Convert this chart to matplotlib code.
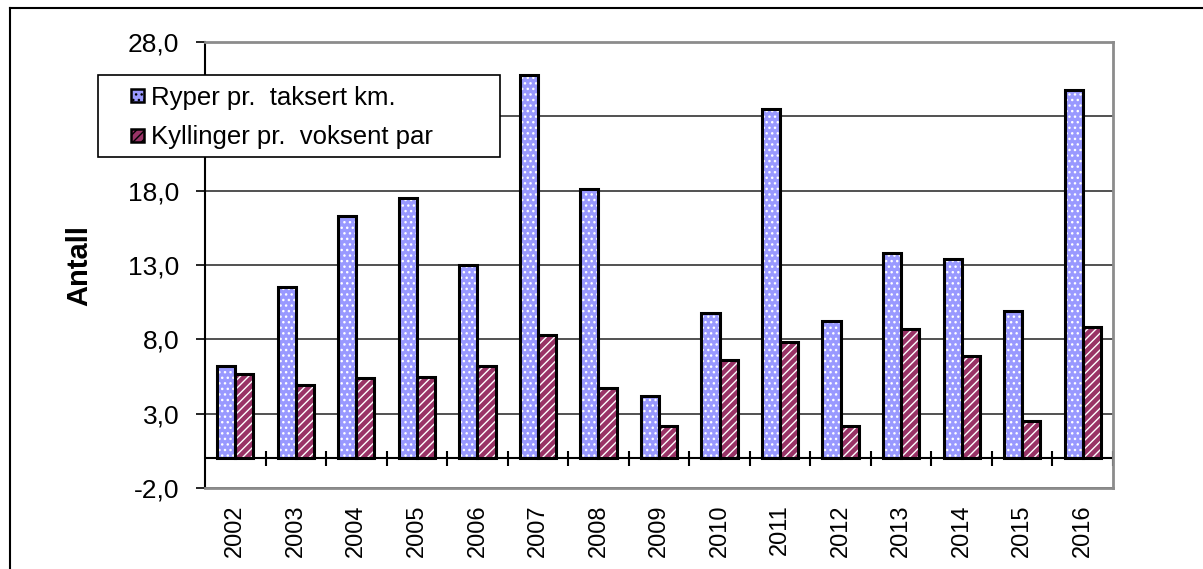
import matplotlib
matplotlib.use("Agg")
import matplotlib.pyplot as plt
import numpy as np
from matplotlib.lines import Line2D
from matplotlib.patches import Rectangle

years = ["2002", "2003", "2004", "2005", "2006", "2007", "2008", "2009",
         "2010", "2011", "2012", "2013", "2014", "2015", "2016"]
ryper = [6.2, 11.5, 16.3, 17.5, 13.0, 25.8, 18.1, 4.2,
         9.8, 23.5, 9.2, 13.8, 13.4, 9.9, 24.8]
kyllinger = [5.7, 4.9, 5.4, 5.5, 6.2, 8.3, 4.7, 2.2,
             6.6, 7.8, 2.2, 8.7, 6.9, 2.5, 8.8]
series_names = ["Ryper pr.  taksert km.", "Kyllinger pr.  voksent par"]
yticks = [-2, 3, 8, 13, 18, 23, 28]
hidden_ytick = 23  # covered by the legend box in the original

plt.rcParams['font.family'] = ['Liberation Sans', 'DejaVu Sans']
plt.rcParams['hatch.linewidth'] = 1.0

W, H = 1203, 569
fig = plt.figure(figsize=(W/100, H/100), dpi=100)
ax = fig.add_axes([205/W, 1-488/H, 908/W, 446/H])

x = np.arange(len(years))
w = 0.30
blue = '#9999FF'
red = '#993366'

# fill + white hatch layers
ax.bar(x - w/2, ryper, w, facecolor=blue, edgecolor='white', hatch='...', lw=0, zorder=3)
ax.bar(x + w/2, kyllinger, w, facecolor=red, edgecolor='white', hatch='////', lw=0, zorder=3)
# black outlines
ax.bar(x - w/2, ryper, w, fill=False, edgecolor='black', lw=2.2, zorder=4)
ax.bar(x + w/2, kyllinger, w, fill=False, edgecolor='black', lw=2.2, zorder=4)

ax.set_xlim(-0.5, len(years) - 0.5)
ax.set_ylim(-2, 28)
ax.set_yticks(yticks)
ax.set_yticklabels(["" if v == hidden_ytick else f"{v:.1f}".replace('.', ',')
                    for v in yticks], fontsize=19)
ax.tick_params(axis='y', direction='out', length=6.5, width=1.2, pad=12, colors='black')

ax.set_xticks(x)
ax.set_xticklabels(years, rotation=90, fontsize=17)
ax.tick_params(axis='x', length=0, pad=12)

# gridlines
ax.yaxis.grid(True, color='#333333', lw=1.2, zorder=1)
ax.set_axisbelow(True)

# category axis at zero with tick marks between categories
ax.axhline(0, color='black', lw=1.5, zorder=2)
ax.vlines(x + 0.5, -0.5, 0.5, color='black', lw=1.5, zorder=2)

for s in ['top', 'right', 'bottom']:
    ax.spines[s].set_color('#8c8c8c')
    ax.spines[s].set_linewidth(2.0)
ax.spines['left'].set_color('black')
ax.spines['left'].set_linewidth(1.5)

ax.set_ylabel("Antall", fontsize=21, fontweight='bold', labelpad=25)

# legend box (Excel style) drawn over the axes
fig.add_artist(Rectangle((98/W, 1-157/H), 402/W, 82/H, transform=fig.transFigure,
                         facecolor='white', edgecolor='black', lw=1.2, zorder=4))
handles = [
    Rectangle((0, 0), 1, 1, facecolor=blue, edgecolor='black', lw=1.8, hatch='...'),
    Rectangle((0, 0), 1, 1, facecolor=red, edgecolor='black', lw=1.8, hatch='////'),
]
leg = fig.legend(handles, series_names, loc='upper left',
                 bbox_to_anchor=(131/W, 1-86/H), bbox_transform=fig.transFigure,
                 fontsize=18.5, frameon=False, borderaxespad=0, borderpad=0,
                 handlelength=0.52, handleheight=0.42, handletextpad=0.25,
                 labelspacing=0.6)
leg.set_zorder(5)

# outer frame (top and left edges)
fig.add_artist(Line2D([10/W, 1], [1-8/H, 1-8/H], transform=fig.transFigure,
                      color='black', lw=1.5))
fig.add_artist(Line2D([10/W, 10/W], [0, 1-8/H], transform=fig.transFigure,
                      color='black', lw=1.5))

fig.savefig("out.png", dpi=100)
